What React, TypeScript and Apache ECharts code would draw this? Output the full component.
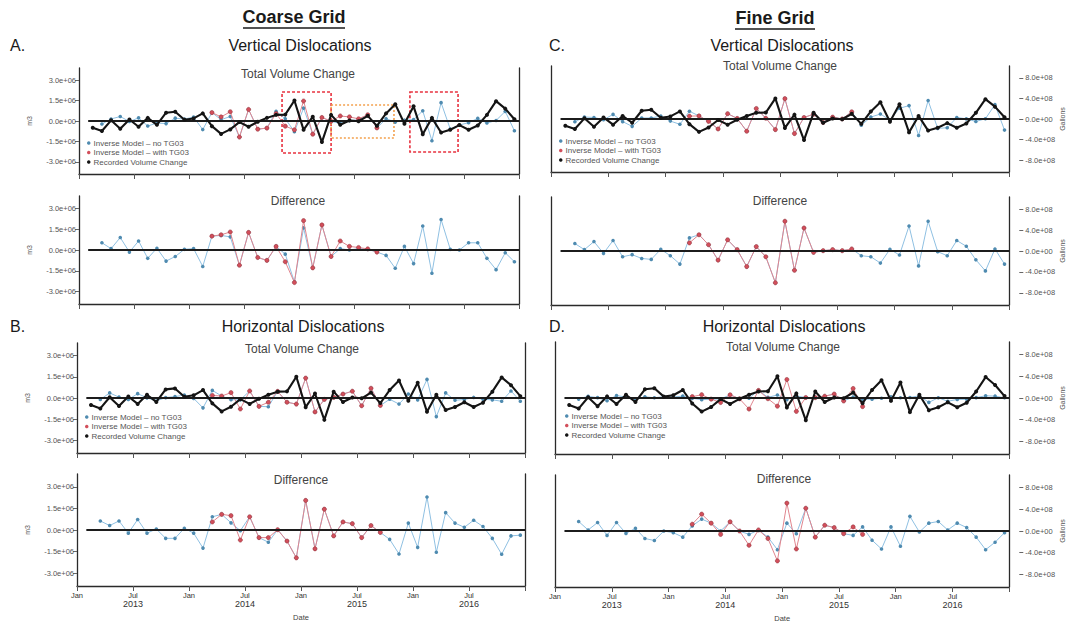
import React, { useEffect, useRef } from 'react';
import * as echarts from 'echarts';

// ---------------- data ----------------
// monthly values, mid-month; left column in 1e6 m3, right column in 1e8 gallons
const recordedStart = '2013-02';
const modelStart = '2013-03';
const tg03Start = '2014-03';

const recordedM3 = [-0.49, -0.74, 0.05, -0.57, 0.11, -0.42, 0.23, -0.28, 0.61, 0.68, 0.09, 0.19, 0.56, -0.38, -0.95, -0.62, -0.08, -0.42, -0.06, 0.23, 0.45, 0.47, 1.51, -0.65, 0.32, -1.55, 0.45, -0.28, 0.04, -0.02, 0.38, -0.36, 0.56, 1.24, -0.2, 1.08, -0.98, 0.23, -0.85, -0.64, -0.3, -0.64, -0.33, 0.45, 1.46, 0.91, 0.13];
const recordedGal = [-1.3, -1.95, 0.13, -1.5, 0.3, -1.1, 0.6, -0.73, 1.6, 1.8, 0.25, 0.5, 1.47, -1.0, -2.5, -1.65, -0.2, -1.1, -0.15, 0.6, 1.2, 1.25, 4.0, -1.73, 0.85, -4.1, 1.2, -0.73, 0.1, -0.05, 1.0, -0.95, 1.47, 3.27, -0.53, 2.85, -2.6, 0.6, -2.25, -1.7, -0.8, -1.7, -0.87, 1.2, 3.85, 2.4, 0.35];

// A. Coarse grid, vertical dislocations
const vertCoarseModelNo = [-0.22, 0.15, 0.33, -0.04, 0.23, -0.37, -0.15, -0.19, 0.21, 0.14, 0.29, -0.63, 0.62, 0.1, 0.33, -1.18, 0.85, -0.6, -0.52, 0.71, 0.17, -0.79, 0.95, -0.97, 0.26, -0.02, -0.18, 0.04, 0.08, 0.43, -0.51, 0.17, -0.08, 0.06, 0.1, 0.75, -1.45, 1.35, -0.59, -0.3, -0.12, 0.19, -0.15, 0.04, 0.71, -0.72];
const vertCoarseModelWith = [0.62, 0.3, 0.68, -1.18, 0.85, -0.6, -0.52, 0.55, -0.38, -0.65, 1.47, -0.97, 0.26, -0.02, 0.37, 0.3, 0.16, 0.46, -0.51];
const vertCoarseDiffNo = [0.52, 0.1, 0.9, -0.15, 0.65, -0.6, 0.13, -0.8, -0.47, 0.05, 0.1, -1.19, 1.0, 1.05, 0.95, -1.1, 1.27, -0.54, -0.75, 0.26, -0.3, -2.3, 1.6, -1.29, 1.81, -0.47, 0.1, 0.0, 0.1, 0.05, -0.15, -0.39, -1.32, 0.26, -0.98, 1.73, -1.68, 2.2, 0.05, 0.0, 0.52, 0.52, -0.6, -1.42, -0.2, -0.85];
const vertCoarseDiffWith = [1.0, 1.1, 1.3, -1.1, 1.27, -0.54, -0.75, 0.26, -0.85, -2.35, 2.12, -1.29, 1.81, -0.47, 0.65, 0.26, 0.18, 0.08, -0.15];

// B. Coarse grid, horizontal dislocations
const horzCoarseModelNo = [-0.11, 0.36, 0.06, -0.11, 0.31, 0.01, -0.21, 0.03, 0.1, 0.21, -0.03, -0.7, 0.54, 0.14, -0.12, -0.13, 0.5, -0.59, -0.62, 0.47, -0.3, -0.43, 1.41, -0.99, -0.1, 0.04, 0.28, 0.48, -0.55, 0.69, -0.53, -0.09, -0.43, 0.28, -0.13, 1.32, -1.32, 0.36, -0.16, -0.11, 0.04, -0.09, -0.13, -0.23, 0.5, -0.23];
const horzCoarseModelWith = [0.18, 0.14, 0.38, -0.78, 0.5, -0.59, -0.3, 0.47, -0.3, -0.43, 1.41, -0.99, -0.1, 0.04, 0.28, 0.48, -0.55, 0.69, -0.53];
const horzCoarseDiffNo = [0.63, 0.31, 0.63, -0.22, 0.73, -0.22, 0.07, -0.58, -0.58, 0.12, -0.22, -1.26, 0.92, 1.09, 0.5, -0.05, 0.92, -0.53, -0.85, 0.02, -0.77, -1.94, 2.06, -1.31, 1.45, -0.41, 0.56, 0.44, -0.53, 0.31, -0.17, -0.65, -1.67, 0.48, -1.21, 2.3, -1.55, 1.21, 0.48, 0.19, 0.68, 0.24, -0.58, -1.69, -0.41, -0.36];
const horzCoarseDiffWith = [0.56, 1.09, 1.0, -0.7, 0.92, -0.53, -0.53, 0.02, -0.77, -1.94, 2.06, -1.31, 1.45, -0.41, 0.56, 0.44, -0.53, 0.31, -0.17];

// C. Fine grid, vertical dislocations
const vertFineModelNo = [-0.53, 0.39, 0.3, -0.15, 0.9, -0.5, -1.43, 0.18, 0.2, 0.57, -0.4, -1.03, 1.5, 0.6, -0.45, -1.94, 1.03, 0.11, -2.37, 2.04, 0.15, -2.06, 3.95, -2.83, 0.29, 0.94, -0.67, 0.36, 0.01, 1.39, -1.2, 0.37, 0.97, -0.21, 2.08, 2.6, -3.2, 3.6, -1.83, -1.7, 0.3, 0.03, -0.48, 0.05, 2.79, -2.15];
const vertFineModelWith = [0.55, 0.6, -0.45, -1.94, 1.03, 0.11, -2.37, 2.04, 0.15, -2.06, 3.95, -2.83, 0.29, 0.94, -0.67, 0.36, 0.01, 1.39];
const vertFineDiffNo = [1.42, 0.26, 1.8, -0.45, 2.0, -1.1, -0.7, -1.42, -1.6, 0.32, -0.9, -2.5, 2.5, 3.1, 1.2, -1.74, 2.13, 0.26, -2.97, 0.84, -1.1, -6.06, 5.68, -3.68, 4.39, -0.26, 0.06, 0.26, 0.06, 0.39, -0.9, -1.1, -2.3, 0.32, -0.77, 4.77, -2.84, 5.68, -0.13, -0.9, 2.0, 0.9, -1.68, -3.8, 0.39, -2.5];
const vertFineDiffWith = [1.55, 3.1, 1.2, -1.74, 2.13, 0.26, -2.97, 0.84, -1.1, -6.06, 5.68, -3.68, 4.39, -0.26, 0.06, 0.26, 0.06, 0.39];

// D. Fine grid, horizontal dislocations
const horzFineModelNo = [-0.2, 0.32, 0.06, -0.51, 0.46, 0.16, -0.23, 0.22, 0.05, 0.25, 0.19, 0.34, -0.06, -0.31, -0.21, -0.2, 0.59, -0.15, -0.03, 1.39, 0.12, 0.56, -0.29, 0.35, 0.09, 0.07, 0.33, 0.73, -0.55, 0.19, -0.2, -0.22, -0.04, 0.22, 0.04, 0.09, 0.41, -0.81, 0.05, -0.61, -0.26, -0.24, 0.07, 0.41, 0.34, 0.04];
const horzFineModelWith = [0.25, 0.6, -0.21, -0.83, 0.59, -0.15, -2.03, 1.39, -0.13, -1.5, 3.4, -2.46, 0.09, 0.07, 0.33, 0.73, -0.55, 1.75, -1.58];
const horzFineDiffNo = [1.75, 0.19, 1.56, -0.81, 1.56, -0.44, 0.5, -1.38, -1.75, 0, -0.31, -1.13, 0.94, 2.19, 1.44, 0, 1.69, 0, -0.63, 0.19, -1.13, -3.44, 1.44, -0.5, 4.19, -1.13, 1.06, 0.63, -0.5, -0.81, 0.75, -1.69, -3.31, 0.75, -2.81, 2.69, -0.19, 1.44, 1.75, 0.19, 1.44, 0.63, -1.13, -3.44, -2.06, -0.31];
const horzFineDiffWith = [1.25, 3.1, 1.44, -0.63, 1.69, 0, -2.63, 0.19, -1.38, -5.5, 5.13, -3.31, 4.19, -1.13, 1.06, 0.63, -0.5, 0.75, -0.63];

// axis ticks
const m3Ticks = [-3e6, -1.5e6, 0, 1.5e6, 3e6];
const galTicks = [-8e8, -4e8, 0, 4e8, 8e8];

// highlighted periods in panel A (months from Jan 2013, 1e6 m3)
const highlightBoxes = [
  { from: 22.15, to: 27.5, top: 2.13, bottom: -2.35, color: '#e8323f', dash: [3, 2] },
  { from: 27.5, to: 34.36, top: 1.18, bottom: -1.25, color: '#f3a14e', dash: [2, 2] },
  { from: 36.1, to: 41.35, top: 2.13, bottom: -2.28, color: '#e8323f', dash: [3, 2] },
];

const NAME_NO = 'Inverse Model \u2013 no TG03';
const NAME_WITH = 'Inverse Model \u2013 with TG03';
const NAME_REC = 'Recorded Volume Change';

// ---------------- styling ----------------
const FONT = '"Liberation Sans", Arial, Helvetica, sans-serif';
const BLUE_LINE = '#8fc0e2';
const BLUE_PT = '#4f8bb0';
const RED_LINE = '#e0858e';
const RED_PT = '#d24f5b';
const BLACK = '#141414';
const AXIS = '#2a2a2a';

function monthPos(start: string, i: number) {
  const [y, m] = start.split('-').map(Number);
  return (y - 2013) * 12 + (m - 1) + i + 0.5;
}
function pts(start: string, vals: number[], unit: number) {
  return vals.map((v, i) => [monthPos(start, i), v * unit]);
}
function sci(v: number) {
  if (v === 0) return '0.0e+00';
  const e = Math.floor(Math.log10(Math.abs(v)) + 1e-9);
  const m = v / Math.pow(10, e);
  return m.toFixed(1) + 'e' + (e >= 0 ? '+' : '-') + String(Math.abs(e)).padStart(2, '0');
}

type Panel = {
  col: 'L' | 'R';
  part: 'total' | 'diff';
  box: { left: number; top: number; width: number; height: number };
  no: number[];
  withT: number[];
  rec?: number[];
  legend?: { left: number; top: number };
  highlight?: boolean;
  xLabels?: boolean;
};

const panels: Panel[] = [
  { col: 'L', part: 'total', box: { left: 79, top: 68, width: 440, height: 106 }, no: vertCoarseModelNo, withT: vertCoarseModelWith, rec: recordedM3, legend: { left: 87, top: 139 }, highlight: true },
  { col: 'L', part: 'diff', box: { left: 79, top: 196, width: 440, height: 108 }, no: vertCoarseDiffNo, withT: vertCoarseDiffWith },
  { col: 'L', part: 'total', box: { left: 77, top: 343, width: 448, height: 110 }, no: horzCoarseModelNo, withT: horzCoarseModelWith, rec: recordedM3, legend: { left: 85, top: 413 } },
  { col: 'L', part: 'diff', box: { left: 77, top: 474, width: 448, height: 112 }, no: horzCoarseDiffNo, withT: horzCoarseDiffWith, xLabels: true },
  { col: 'R', part: 'total', box: { left: 551, top: 66, width: 460, height: 106 }, no: vertFineModelNo, withT: vertFineModelWith, rec: recordedGal, legend: { left: 559, top: 137 } },
  { col: 'R', part: 'diff', box: { left: 551, top: 197, width: 460, height: 108 }, no: vertFineDiffNo, withT: vertFineDiffWith },
  { col: 'R', part: 'total', box: { left: 555, top: 342, width: 459, height: 112 }, no: horzFineModelNo, withT: horzFineModelWith, rec: recordedGal, legend: { left: 565, top: 412 } },
  { col: 'R', part: 'diff', box: { left: 555, top: 475, width: 459, height: 112 }, no: horzFineDiffNo, withT: horzFineDiffWith, xLabels: true },
];

function buildOption() {
  const grid: any[] = [];
  const xAxis: any[] = [];
  const yAxis: any[] = [];
  const series: any[] = [];
  const legend: any[] = [];

  panels.forEach((p, gi) => {
    const left = p.col === 'L';
    const unit = left ? 1e6 : 1e8;
    const ticks = left ? m3Ticks : galTicks;
    const yMin = left ? -3.9e6 : -10.3e8;
    const yMax = left ? 3.9e6 : 10.3e8;
    grid.push({ ...p.box, containLabel: false });

    xAxis.push({
      type: 'value', gridIndex: gi, min: 0, max: 48, interval: 6, position: 'bottom',
      axisLine: { show: true, onZero: false, lineStyle: { color: AXIS, width: 1.3 } },
      axisTick: { show: true, length: 5, lineStyle: { color: '#555', width: 1 } },
      splitLine: { show: false },
      axisLabel: {
        show: !!p.xLabels, margin: 5, fontFamily: FONT, color: '#333',
        formatter: (v: number) => {
          if (v >= 48) return '';
          const yr = 2013 + Math.floor(v / 12);
          return v % 12 === 0 ? '{m|Jan}' : '{m|Jul}\n{y|' + yr + '}';
        },
        rich: {
          m: { fontSize: 7.5, lineHeight: 8, fontFamily: FONT, color: '#333' },
          y: { fontSize: 9, lineHeight: 10, fontFamily: FONT, color: '#333' },
        },
      },
      name: p.xLabels ? 'Date' : '', nameLocation: 'middle', nameGap: 27,
      nameTextStyle: { fontSize: 7.5, fontFamily: FONT, color: '#444' },
    });

    const yBase = yAxis.length;
    const common = { type: 'value', gridIndex: gi, min: yMin, max: yMax, splitLine: { show: false } };
    const lineOnly = { axisLine: { show: true, onZero: false, lineStyle: { color: AXIS, width: 1.3 } }, axisTick: { show: false }, axisLabel: { show: false } };
    const labelStyle = { fontSize: 7.5, color: '#555', fontFamily: FONT, formatter: (v: number) => sci(v), customValues: ticks };
    if (left) {
      yAxis.push({
        ...common, position: 'left',
        axisLine: { show: true, onZero: false, lineStyle: { color: AXIS, width: 1.3 } },
        axisTick: { show: true, length: 4, customValues: ticks, lineStyle: { color: '#666' } },
        axisLabel: { show: true, margin: 3, ...labelStyle },
        name: 'm3', nameLocation: 'middle', nameGap: 46, nameRotate: 90,
        nameTextStyle: { fontSize: 7, color: '#555', fontFamily: FONT },
      });
      yAxis.push({ ...common, position: 'right', ...lineOnly });
    } else {
      yAxis.push({ ...common, position: 'left', ...lineOnly });
      yAxis.push({ ...common, position: 'right', ...lineOnly });
      yAxis.push({
        ...common, position: 'right', offset: 10,
        axisLine: { show: false, onZero: false },
        axisTick: { show: true, length: 4, customValues: ticks, lineStyle: { color: '#666' } },
        axisLabel: { show: true, margin: 6, ...labelStyle },
        name: 'Gallons', nameLocation: 'middle', nameGap: 38, nameRotate: 90,
        nameTextStyle: { fontSize: 7, color: '#555', fontFamily: FONT },
      });
    }

    const isTotal = p.part === 'total';
    series.push({
      type: 'line', name: isTotal ? NAME_NO : 'Difference \u2013 no TG03',
      xAxisIndex: gi, yAxisIndex: yBase, data: pts(modelStart, p.no, unit),
      symbol: 'circle', symbolSize: 3.6, showAllSymbol: true,
      lineStyle: { color: BLUE_LINE, width: 1 }, itemStyle: { color: BLUE_PT },
      z: 2, silent: true,
    });
    series.push({
      type: 'line', name: isTotal ? NAME_WITH : 'Difference \u2013 with TG03',
      xAxisIndex: gi, yAxisIndex: yBase, data: pts(tg03Start, p.withT, unit),
      symbol: 'circle', symbolSize: 4.2, showAllSymbol: true,
      lineStyle: { color: RED_LINE, width: 1 }, itemStyle: { color: RED_PT, borderColor: '#8a2c34', borderWidth: 0.5 },
      z: 3, silent: true,
    });
    series.push({
      type: 'line', name: 'zero-' + gi, xAxisIndex: gi, yAxisIndex: yBase, data: [], z: 4, silent: true,
      markLine: {
        silent: true, symbol: ['none', 'none'], label: { show: false },
        lineStyle: { color: '#1c1c1c', width: 2, type: 'solid' },
        data: [[{ coord: [1, 0] }, { coord: [48, 0] }]],
      },
    });
    if (isTotal && p.rec) {
      const rs: any = {
        type: 'line', name: NAME_REC, xAxisIndex: gi, yAxisIndex: yBase,
        data: pts(recordedStart, p.rec, unit),
        symbol: 'circle', symbolSize: 4, showAllSymbol: true,
        lineStyle: { color: BLACK, width: 2.1 }, itemStyle: { color: BLACK },
        z: 5, silent: true,
      };
      if (p.highlight) {
        rs.markArea = {
          silent: true,
          data: highlightBoxes.map((b) => [
            { coord: [b.from, b.top * unit], itemStyle: { color: 'rgba(0,0,0,0)', borderColor: b.color, borderWidth: 1.6, borderType: b.dash } },
            { coord: [b.to, b.bottom * unit] },
          ]),
        };
      }
      series.push(rs);
    }
    if (isTotal && p.legend) {
      legend.push({
        data: [NAME_NO, NAME_WITH, NAME_REC], left: p.legend.left, top: p.legend.top,
        orient: 'vertical', icon: 'circle', itemWidth: 3.5, itemHeight: 3.5, itemGap: 1.5,
        padding: 0, selectedMode: false,
        itemStyle: { borderWidth: 0 },
        textStyle: { fontSize: 8, color: '#555', fontFamily: FONT, lineHeight: 8, padding: [0, 0, 0, -2] },
      });
    }
  });

  const txt = (text: string, x: number, y: number, size: number, opts: any = {}) => ({
    type: 'text', x, y, silent: true,
    style: {
      text, fill: opts.fill || '#1a1a1a', font: `${opts.bold ? 'bold ' : ''}${size}px ${FONT}`,
      textAlign: opts.align || 'center', textVerticalAlign: 'middle', align: opts.align || 'center', verticalAlign: 'middle',
    },
  });

  const graphic: any[] = [
    txt('Coarse Grid', 294, 17, 18, { bold: true }),
    { type: 'line', silent: true, shape: { x1: 243, y1: 28, x2: 345, y2: 28 }, style: { stroke: '#1a1a1a', lineWidth: 1.5 } },
    txt('Fine Grid', 775, 18, 18, { bold: true }),
    { type: 'line', silent: true, shape: { x1: 735, y1: 29, x2: 815, y2: 29 }, style: { stroke: '#1a1a1a', lineWidth: 1.5 } },
    txt('A.', 10, 45, 16, { align: 'left' }),
    txt('C.', 549, 45, 16, { align: 'left' }),
    txt('B.', 10, 326, 16, { align: 'left' }),
    txt('D.', 549, 326, 16, { align: 'left' }),
    txt('Vertical Dislocations', 300, 45, 16),
    txt('Vertical Dislocations', 782, 45, 16),
    txt('Horizontal Dislocations', 303, 326, 16),
    txt('Horizontal Dislocations', 784, 326, 16),
    txt('Total Volume Change', 298, 74, 12, { fill: '#444' }),
    txt('Total Volume Change', 780, 66, 12, { fill: '#444' }),
    txt('Total Volume Change', 302, 349, 12, { fill: '#444' }),
    txt('Total Volume Change', 783, 347, 12, { fill: '#444' }),
    txt('Difference', 298, 201, 12, { fill: '#444' }),
    txt('Difference', 780, 201, 12, { fill: '#444' }),
    txt('Difference', 301, 480, 12, { fill: '#444' }),
    txt('Difference', 784, 479, 12, { fill: '#444' }),
  ];

  return {
    animation: false,
    backgroundColor: '#ffffff',
    textStyle: { fontFamily: FONT },
    grid, xAxis, yAxis, series, legend, graphic,
  };
}

export default function App() {
  const ref = useRef<HTMLDivElement>(null);
  useEffect(() => {
    document.body.style.margin = '0';
    if (!ref.current) return;
    const chart = echarts.init(ref.current, undefined, { renderer: 'svg' });
    chart.setOption(buildOption() as any);
    return () => chart.dispose();
  }, []);
  return <div ref={ref} style={{ width: 1067, height: 624, background: '#fff' }} />;
}
